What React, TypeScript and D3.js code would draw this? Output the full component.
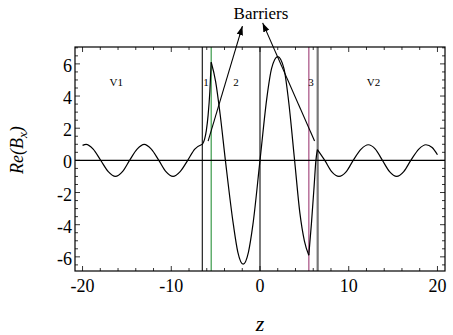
import React from 'react';
import * as d3 from 'd3';

// curve pieces, one per region (z, Re(Bx))
const regionV1: [number, number][] = [
  [-20, 0.93], [-19.6, 1.0], [-18.8, 0.7], [-17.95, 0], [-17.1, -0.7], [-16.3, -1.0],
  [-15.5, -0.7], [-14.7, 0], [-13.85, 0.7], [-13.05, 1.0], [-12.25, 0.7], [-11.4, 0],
  [-10.6, -0.7], [-9.8, -1.0], [-9.0, -0.7], [-8.15, 0], [-7.35, 0.7], [-6.5, 1.0],
];
const region1: [number, number][] = [
  [-6.5, 1.0], [-6.25, 1.3], [-6.05, 1.85], [-5.85, 2.8], [-5.65, 4.3], [-5.5, 6.1],
];
const region2: [number, number][] = [
  [-5.5, 6.1], [-5.0, 4.9], [-4.5, 2.9], [-3.9, 0], [-3.0, -4.0], [-2.5, -5.7],
  [-1.9, -6.45], [-1.3, -5.7], [-0.8, -4.0], [0, 0], [0.8, 4.0], [1.3, 5.7],
  [2.0, 6.45], [2.7, 5.7], [3.2, 3.8], [3.9, 0], [4.5, -3.3], [5.0, -5.0], [5.5, -5.9],
];
const region3: [number, number][] = [
  [5.5, -5.9], [5.8, -3.9], [6.1, -1.6], [6.3, 0], [6.47, 0.67],
];
const regionV2: [number, number][] = [
  [6.47, 0.67], [7.3, 0], [8.1, -0.72], [8.9, -1.0], [9.7, -0.72], [10.5, 0],
  [11.4, 0.7], [12.2, 0.97], [13.0, 0.7], [13.8, 0], [14.6, -0.7], [15.4, -1.0],
  [16.2, -0.7], [17.0, 0], [17.9, 0.7], [18.7, 0.97], [19.4, 0.8], [20, 0.35],
];

// region boundaries
const boundaries = [
  { z: -6.5, color: '#222', width: 1.2 },
  { z: -5.5, color: '#3a9a4a', width: 1.2 },
  { z: 0, color: '#222', width: 1.2 },
  { z: 5.5, color: '#b8709a', width: 1.5 },
  { z: 6.5, color: '#777', width: 2.2 },
];

const regionLabels = [
  { text: 'V1', z: -16.2 },
  { text: '1', z: -6.1 },
  { text: '2', z: -2.7 },
  { text: '3', z: 5.75 },
  { text: 'V2', z: 12.8 },
];
const labelLevel = 4.9;

// "Barriers" arrows: tail -> head, in data units
const arrows = [
  { from: [-5.85, 1.2], to: [-1.98, 8.35] },
  { from: [6.15, 1.2], to: [0.3, 8.55] },
];

const xTicks = [-20, -10, 0, 10, 20];
const yTicks = [-6, -4, -2, 0, 2, 4, 6];

const W = 453;
const H = 335;
const serif = '"Liberation Serif", "DejaVu Serif", serif';

export default function App() {
  const x = d3.scaleLinear().domain([-20.85, 20.85]).range([75, 445]);
  const y = d3.scaleLinear().domain([-6.88, 7.05]).range([271, 47]);
  const [x0, x1] = x.range();
  const [y0, y1] = y.range();

  const line = d3
    .line<[number, number]>()
    .x(d => x(d[0]))
    .y(d => y(d[1]))
    .curve(d3.curveMonotoneX);

  const xMinor = d3.range(-20, 21, 2);
  const yMinor = d3.range(-6.5, 7.01, 0.5);

  return (
    <svg
      width={W}
      height={H}
      style={{ position: 'absolute', left: 0, top: 0, background: '#fff' }}
      fontFamily={serif}
    >
      <defs>
        <marker id="head" markerUnits="userSpaceOnUse" markerWidth={10} markerHeight={8}
          refX={9} refY={4} orient="auto">
          <path d="M0,0.8 L9,4 L0,7.2 Z" fill="#000" />
        </marker>
        <clipPath id="plot">
          <rect x={x0} y={y1} width={x1 - x0} height={y0 - y1} />
        </clipPath>
      </defs>

      {/* boundaries */}
      {boundaries.map(b => (
        <line key={b.z} x1={x(b.z)} x2={x(b.z)} y1={y1} y2={y0}
          stroke={b.color} strokeWidth={b.width} />
      ))}

      {/* zero line */}
      <line x1={x0} x2={x1} y1={y(0)} y2={y(0)} stroke="#000" strokeWidth={1.1} />

      <g clipPath="url(#plot)" fill="none" stroke="#000" strokeWidth={1.2}>
        {[regionV1, region1, region2, region3, regionV2].map((seg, i) => (
          <path key={i} d={line(seg) ?? ''} />
        ))}
      </g>

      {/* frame and ticks */}
      <rect x={x0} y={y1} width={x1 - x0} height={y0 - y1} fill="none" stroke="#000" strokeWidth={1.2} />
      <g stroke="#000" strokeWidth={0.8}>
        {xMinor.map(v => {
          const len = v % 10 === 0 ? 5 : 3;
          return (
            <g key={'xt' + v}>
              <line x1={x(v)} x2={x(v)} y1={y0} y2={y0 - len} />
              <line x1={x(v)} x2={x(v)} y1={y1} y2={y1 + len} />
            </g>
          );
        })}
        {yMinor.map(v => {
          const len = Math.abs(v % 2) < 1e-6 ? 5 : 3;
          return (
            <g key={'yt' + v}>
              <line x1={x0} x2={x0 + len} y1={y(v)} y2={y(v)} />
              <line x1={x1} x2={x1 - len} y1={y(v)} y2={y(v)} />
            </g>
          );
        })}
      </g>

      {/* tick labels */}
      <g fontSize={18} fill="#000">
        {xTicks.map(v => (
          <text key={'xl' + v} x={x(v)} y={292} textAnchor="middle">{String(v)}</text>
        ))}
        {yTicks.map(v => (
          <text key={'yl' + v} x={72} y={y(v) + 8} textAnchor="end">{String(v)}</text>
        ))}
      </g>

      {/* axis titles */}
      <text x={x(0)} y={331} textAnchor="middle" fontSize={22} fontStyle="italic">z</text>
      <text transform={`translate(23,150) rotate(-90)`} textAnchor="middle" fontSize={18} fontStyle="italic">
        Re(B<tspan fontSize={13} dy={4}>x</tspan><tspan dy={-4}>)</tspan>
      </text>

      {/* region labels */}
      <g fontSize={11} textAnchor="middle">
        {regionLabels.map(l => (
          <text key={l.text} x={x(l.z)} y={y(labelLevel) + 4}>{l.text}</text>
        ))}
      </g>

      {/* Barriers annotation */}
      <text x={261} y={19} textAnchor="middle" fontSize={17}>Barriers</text>
      {arrows.map((a, i) => (
        <line key={i} x1={x(a.from[0])} y1={y(a.from[1])} x2={x(a.to[0])} y2={y(a.to[1])}
          stroke="#000" strokeWidth={1.1} markerEnd="url(#head)" />
      ))}
    </svg>
  );
}
